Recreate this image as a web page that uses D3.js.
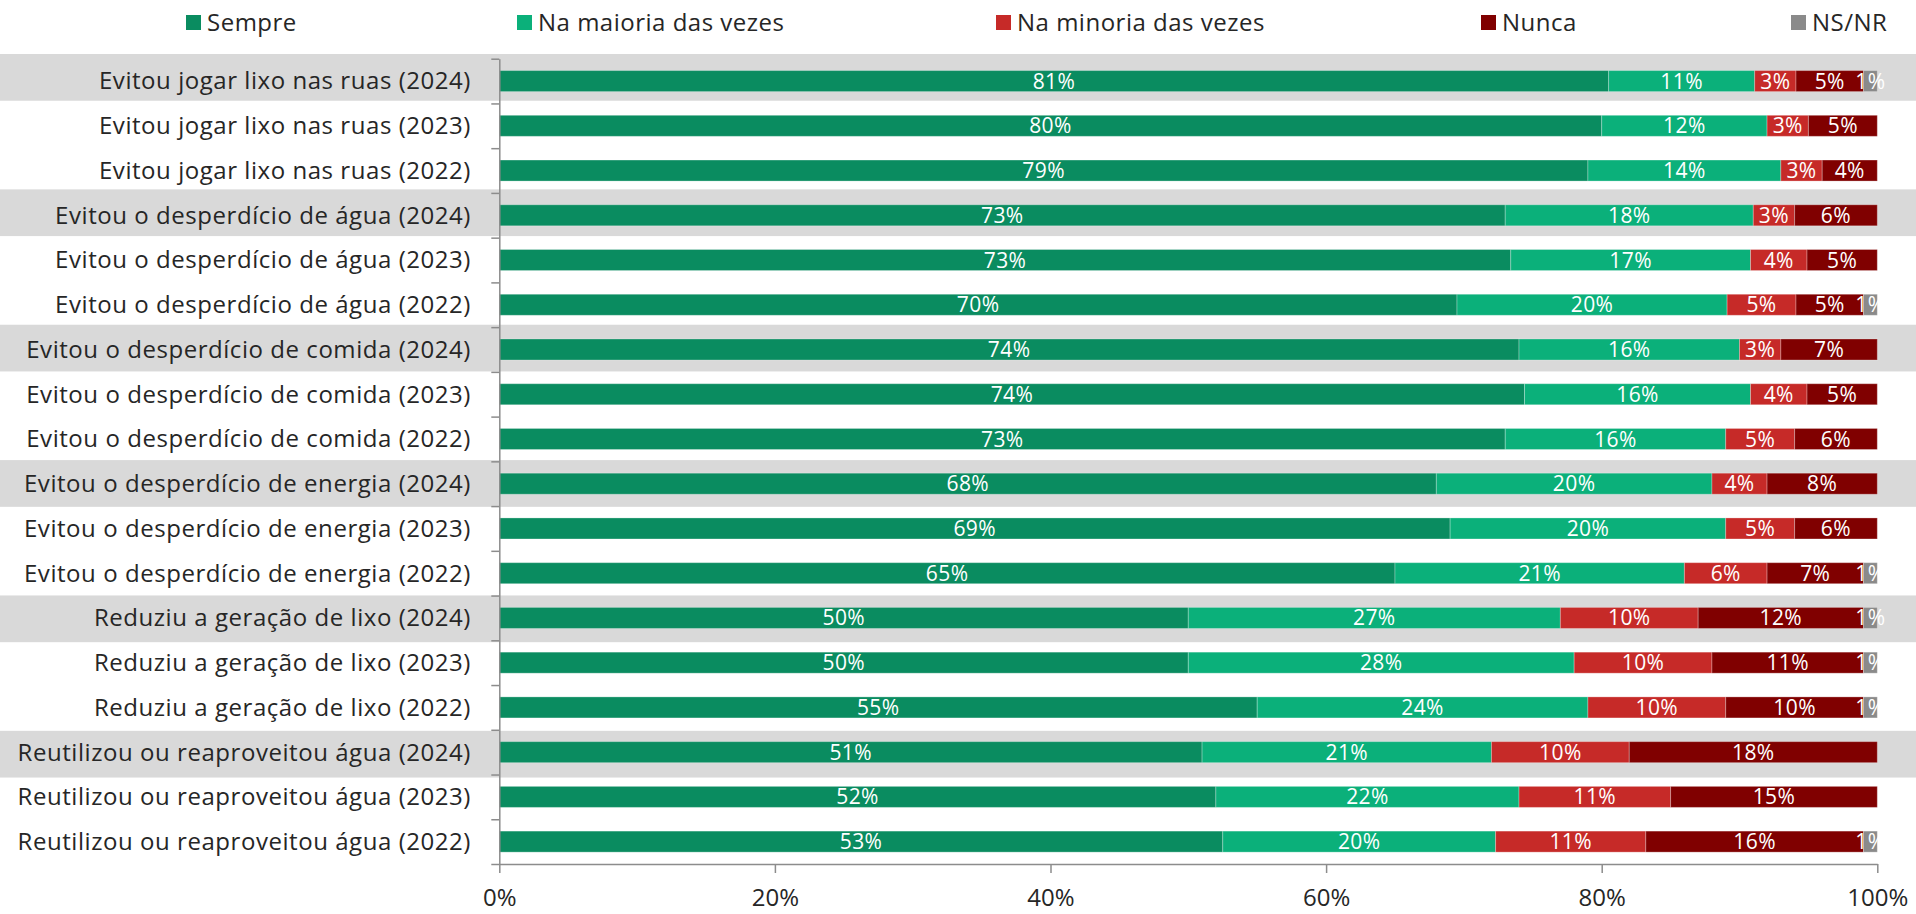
<!DOCTYPE html>
<html>
<head>
<meta charset="utf-8">
<script src="https://cdn.jsdelivr.net/npm/d3@7"></script>
<style>
  html, body { margin: 0; padding: 0; background: #fff; }
  svg { display: block; font-family: "Open Sans", "Noto Sans", sans-serif; }
</style>
</head>
<body>
<svg id="chart" width="1916" height="914"></svg>
<script>
const categories = [
  "Evitou jogar lixo nas ruas (2024)",
  "Evitou jogar lixo nas ruas (2023)",
  "Evitou jogar lixo nas ruas (2022)",
  "Evitou o desperdício de água (2024)",
  "Evitou o desperdício de água (2023)",
  "Evitou o desperdício de água (2022)",
  "Evitou o desperdício de comida (2024)",
  "Evitou o desperdício de comida (2023)",
  "Evitou o desperdício de comida (2022)",
  "Evitou o desperdício de energia (2024)",
  "Evitou o desperdício de energia (2023)",
  "Evitou o desperdício de energia (2022)",
  "Reduziu a geração de lixo (2024)",
  "Reduziu a geração de lixo (2023)",
  "Reduziu a geração de lixo (2022)",
  "Reutilizou ou reaproveitou água (2024)",
  "Reutilizou ou reaproveitou água (2023)",
  "Reutilizou ou reaproveitou água (2022)"
];
const seriesNames = ["Sempre", "Na maioria das vezes", "Na minoria das vezes", "Nunca", "NS/NR"];
const sempre   = [80.5, 80, 79, 73, 73.4, 69.5, 74, 74.4, 73, 68, 69, 65, 50, 50, 55, 51, 52, 52.5];
const maioria  = [10.6, 12, 14, 18, 17.4, 19.6, 16, 16.4, 16, 20, 20, 21, 27, 28, 24, 21, 22, 19.8];
const minoria  = [3.0, 3, 3, 3, 4.1, 5.0, 3, 4.1, 5, 4, 5, 6, 10, 10, 10, 10, 11, 10.9];
const nunca    = [4.9, 5, 4, 6, 5.1, 4.9, 7, 5.1, 6, 8, 6, 7, 12, 11, 10, 18, 15, 15.8];
const nsnr     = [1.0, 0, 0, 0, 0, 1.0, 0, 0, 0, 0, 0, 1, 1, 1, 1, 0, 0, 1.0];
const xTicks = [0, 20, 40, 60, 80, 100];
const colors = ["#0a8c60", "#0bb07a", "#c62a28", "#800000", "#8a8a8a"];

const seriesValues = [sempre, maioria, minoria, nunca, nsnr];
const rows = categories.map((c, i) => {
  const r = { cat: c };
  seriesNames.forEach((s, k) => r[s] = seriesValues[k][i]);
  return r;
});

const svg = d3.select("#chart");
const x = d3.scaleLinear().domain([0, 100]).range([499.3, 1877.3]);
const y = d3.scaleBand().domain(categories).range([58.7, 864]).paddingInner(0.53).paddingOuter(0.265);
const yBand = d3.scaleBand().domain(categories).range([54.8, 867]);
const yIdx = d3.scaleLinear().domain([0, categories.length]).range([58.7, 864]);

// highlight bands for 2024 rows
svg.append("g").selectAll("rect")
  .data(categories.filter(c => c.includes("(2024)")))
  .join("rect")
  .attr("x", 0).attr("width", 1916)
  .attr("y", d => yBand(d) - 0.8)
  .attr("height", yBand.step() + 1.6)
  .attr("fill", "#d9d9d9");

// stacked bars
const stack = d3.stack().keys(seriesNames)(rows);
const layers = svg.append("g").selectAll("g")
  .data(stack).join("g")
  .attr("fill", (d, i) => colors[i]);

layers.selectAll("rect")
  .data(d => d.filter(p => p[1] - p[0] > 0))
  .join("rect")
  .attr("x", d => x(d[0]))
  .attr("width", d => x(d[1]) - x(d[0]))
  .attr("y", d => y(d.data.cat))
  .attr("height", y.bandwidth())
  .attr("stroke", "rgba(255,255,255,0.28)")
  .attr("stroke-width", 1);

// labels
const labelsG = svg.append("g");
stack.forEach((layer) => {
  labelsG.append("g").selectAll("text")
    .data(layer.filter(p => p[1] - p[0] > 0))
    .join("text")
    .attr("x", d => (x(d[0]) + x(d[1])) / 2)
    .attr("y", d => y(d.data.cat) + y.bandwidth() / 2)
    .attr("dy", "0.36em")
    .attr("text-anchor", "middle")
    .attr("fill", "#ffffff")
    .attr("font-size", 21)
    .attr("letter-spacing", 0.4)
    .text(d => Math.round(d[1] - d[0]) + "%");
});

// y axis with ticks at category boundaries
const yAxis = svg.append("g")
  .attr("transform", `translate(${x(0)},0)`)
  .call(d3.axisLeft(yIdx).tickValues(d3.range(categories.length + 1)).tickFormat("").tickSize(8).tickSizeOuter(0));
yAxis.selectAll("path, line").attr("stroke", "#8c8c8c").attr("stroke-width", 1.5);

// category labels
svg.append("g").selectAll("text")
  .data(categories).join("text")
  .attr("x", 471)
  .attr("y", d => y(d) + y.bandwidth() / 2)
  .attr("dy", "0.35em")
  .attr("text-anchor", "end")
  .attr("fill", "#262626")
  .attr("font-size", 24)
  .attr("letter-spacing", 0.55)
  .text(d => d);

// x axis
const xAxis = svg.append("g")
  .attr("transform", `translate(0,864)`)
  .call(d3.axisBottom(x).tickValues(xTicks).tickFormat(d => d + "%").tickSize(9).tickSizeOuter(0).tickPadding(16));
xAxis.selectAll("path, line").attr("stroke", "#8c8c8c").attr("stroke-width", 1.5);
xAxis.selectAll("text").attr("font-size", 24).attr("fill", "#262626").attr("font-family", "Open Sans, sans-serif");

// legend
const legendX = [186, 517, 996, 1481, 1791];
const legend = svg.append("g").selectAll("g")
  .data(seriesNames).join("g")
  .attr("transform", (d, i) => `translate(${legendX[i]},0)`);
legend.append("rect").attr("x", 0).attr("y", 15).attr("width", 15).attr("height", 15)
  .attr("fill", (d, i) => colors[i]);
legend.append("text").attr("x", 21).attr("y", 23).attr("dy", "0.35em")
  .attr("font-size", 24).attr("letter-spacing", 0.5).attr("fill", "#262626").text(d => d);
</script>
</body>
</html>
